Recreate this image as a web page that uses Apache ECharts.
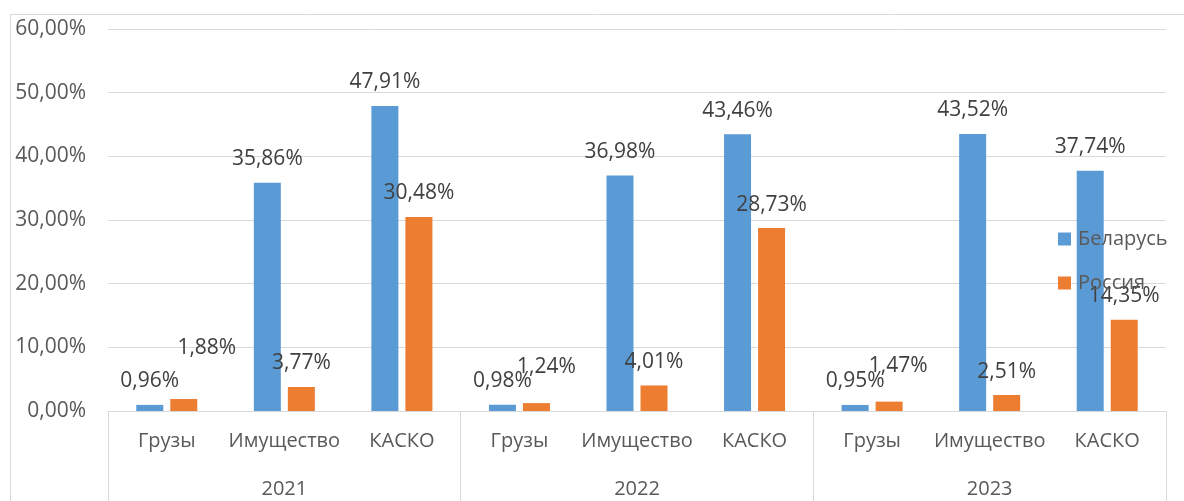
<!DOCTYPE html>
<html>
<head>
<meta charset="utf-8">
<script src="https://cdn.jsdelivr.net/npm/echarts@6/dist/echarts.min.js"></script>
<style>
	html, body { margin: 0; padding: 0; background: #fff; }
	#chart { width: 1184px; height: 501px; }
</style>
</head>
<body>
<div id="chart"></div>
<script>
	// данные диаграммы
	var years = ['2021', '2022', '2023'];
	var kinds = ['Грузы', 'Имущество', 'КАСКО'];
	var belarus = [0.96, 35.86, 47.91, 0.98, 36.98, 43.46, 0.95, 43.52, 37.74];
	var russia = [1.88, 3.77, 30.48, 1.24, 4.01, 28.73, 1.47, 2.51, 14.35];
	var yTicks = [0, 10, 20, 30, 40, 50, 60];

	// сдвиги подписей, которые в оригинале смещены вручную
	var russiaLabelShift = [[23, -28], null, null, [10, -13], null, null, [9, -12], null, null];

	var categories = [];
	years.forEach(function() {
		kinds.forEach(function(k) { categories.push(k); });
	});

	var fontName = '"Open Sans", "Noto Sans", sans-serif';
	function pct(v) {
		return v.toFixed(2).replace('.', ',') + '%';
	}

	var chart = echarts.init(document.getElementById('chart'));
	chart.setOption({
		animation: false,
		color: ['#5B9BD5', '#ED7D31'],
		textStyle: { fontFamily: fontName },
		graphic: [{
			type: 'rect',
			shape: { x: 10.5, y: 14.5, width: 1300, height: 600 },
			style: { fill: 'none', stroke: '#D9D9D9', lineWidth: 1 },
			z: -10
		}],
		grid: { left: 108, right: 18, top: 29, bottom: 90 },
		legend: {
			orient: 'vertical',
			left: 1053,
			top: 224,
			icon: 'rect',
			itemWidth: 13,
			itemHeight: 13,
			itemGap: 24,
			textStyle: { fontSize: 20, color: '#595959', fontFamily: fontName, padding: [0, 0, 0, 2] },
			data: ['Беларусь', 'Россия']
		},
		xAxis: [{
			type: 'category',
			data: categories,
			axisLine: { lineStyle: { color: '#D9D9D9', width: 1 } },
			axisTick: { show: false },
			axisLabel: { interval: 0, margin: 20, fontSize: 20, color: '#595959', fontFamily: fontName }
		}, {
			type: 'category',
			position: 'bottom',
			data: years,
			axisLine: { show: false },
			axisTick: { show: true, length: 120, interval: 0, lineStyle: { color: '#D9D9D9' } },
			axisLabel: { interval: 0, margin: 68, fontSize: 20, color: '#595959', fontFamily: fontName },
			splitLine: { show: false }
		}],
		yAxis: {
			type: 'value',
			min: yTicks[0],
			max: yTicks[yTicks.length - 1],
			interval: yTicks[1] - yTicks[0],
			axisLine: { show: false },
			axisTick: { show: false },
			splitLine: { lineStyle: { color: '#D9D9D9', width: 1 } },
			axisLabel: { margin: 22, fontSize: 21, color: '#595959', fontFamily: fontName, formatter: pct }
		},
		series: [{
			name: 'Беларусь',
			type: 'bar',
			barWidth: 27,
			barGap: '26%',
			data: belarus,
			label: {
				show: true,
				position: 'top',
				distance: 13,
				fontSize: 21,
				color: '#404040',
				fontFamily: fontName,
				formatter: function(p) { return pct(p.value); }
			}
		}, {
			name: 'Россия',
			type: 'bar',
			barWidth: 27,
			data: russia.map(function(v, i) {
				var item = { value: v };
				if (russiaLabelShift[i]) item.label = { offset: russiaLabelShift[i] };
				return item;
			}),
			label: {
				show: true,
				position: 'top',
				distance: 13,
				fontSize: 21,
				color: '#404040',
				fontFamily: fontName,
				formatter: function(p) { return pct(p.value); }
			}
		}]
	});
</script>
</body>
</html>
